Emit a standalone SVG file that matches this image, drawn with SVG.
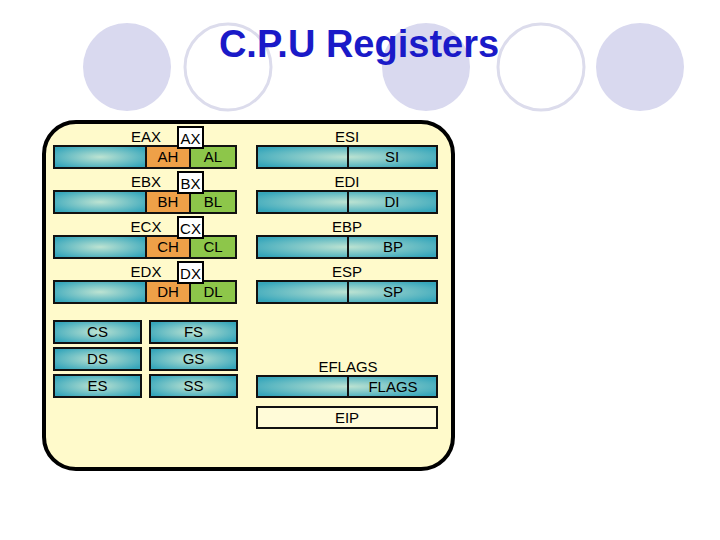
<svg xmlns="http://www.w3.org/2000/svg" width="720" height="540" viewBox="0 0 720 540">
<defs>
<radialGradient id="teal" cx="50%" cy="50%" r="60%">
<stop offset="0" stop-color="#bde3d2"/>
<stop offset="1" stop-color="#36a6bb"/>
</radialGradient>
<style>
.bg{fill:#d9d9ef}
.ring{fill:none;stroke:#dcdcec;stroke-width:3}
.title{font-family:"Liberation Sans",Arial,sans-serif;font-weight:bold;font-size:38px;fill:#1a1ac8}
.panel{fill:#fffacb;stroke:#000;stroke-width:4}
.bar{fill:url(#teal);stroke:#111;stroke-width:2}
.hi{fill:#eea048;stroke:#111;stroke-width:2}
.lo{fill:#8dc64a;stroke:#111;stroke-width:2}
.div{stroke:#111;stroke-width:2}
.box{fill:#fff;stroke:#000;stroke-width:2}
.eip{fill:#fffbd8;stroke:#111;stroke-width:2}
.t{font-family:"Liberation Sans",Arial,sans-serif;font-size:15px;fill:#000;text-anchor:middle}
</style>
</defs>
<rect width="720" height="540" fill="#fff"/>
<g id="decor">
<circle class="bg" cx="127" cy="67" r="44"/>
<circle class="ring" cx="228" cy="67" r="43"/>
<circle class="bg" cx="426" cy="67" r="44"/>
<circle class="ring" cx="541" cy="67" r="43"/>
<circle class="bg" cx="640" cy="67" r="44"/>
</g>
<text class="title" x="359" y="57" text-anchor="middle">C.P.U Registers</text>
<g id="panel"><rect class="panel" x="44" y="122" width="409" height="347" rx="32"/></g>

<g id="eax">
<text class="t" x="146" y="142">EAX</text>
<rect class="bar" x="54" y="146" width="92" height="22"/>
<rect class="hi" x="146" y="146" width="44" height="22"/>
<rect class="lo" x="190" y="146" width="46" height="22"/>
<rect class="box" x="178" y="127" width="25" height="21"/>
<text class="t" x="190.5" y="144">AX</text>
<text class="t" x="168" y="162">AH</text>
<text class="t" x="213" y="162">AL</text>
</g>
<g id="ebx">
<text class="t" x="146" y="187">EBX</text>
<rect class="bar" x="54" y="191" width="92" height="22"/>
<rect class="hi" x="146" y="191" width="44" height="22"/>
<rect class="lo" x="190" y="191" width="46" height="22"/>
<rect class="box" x="178" y="172" width="25" height="21"/>
<text class="t" x="190.5" y="189">BX</text>
<text class="t" x="168" y="207">BH</text>
<text class="t" x="213" y="207">BL</text>
</g>
<g id="ecx">
<text class="t" x="146" y="232">ECX</text>
<rect class="bar" x="54" y="236" width="92" height="22"/>
<rect class="hi" x="146" y="236" width="44" height="22"/>
<rect class="lo" x="190" y="236" width="46" height="22"/>
<rect class="box" x="178" y="217" width="25" height="21"/>
<text class="t" x="190.5" y="234">CX</text>
<text class="t" x="168" y="252">CH</text>
<text class="t" x="213" y="252">CL</text>
</g>
<g id="edx">
<text class="t" x="146" y="277">EDX</text>
<rect class="bar" x="54" y="281" width="92" height="22"/>
<rect class="hi" x="146" y="281" width="44" height="22"/>
<rect class="lo" x="190" y="281" width="46" height="22"/>
<rect class="box" x="178" y="262" width="25" height="21"/>
<text class="t" x="190.5" y="279">DX</text>
<text class="t" x="168" y="297">DH</text>
<text class="t" x="213" y="297">DL</text>
</g>

<g id="esi">
<text class="t" x="347" y="142">ESI</text>
<rect class="bar" x="257" y="146" width="180" height="22"/>
<line class="div" x1="348" y1="146" x2="348" y2="168"/>
<text class="t" x="392" y="162">SI</text>
</g>
<g id="edi">
<text class="t" x="347" y="187">EDI</text>
<rect class="bar" x="257" y="191" width="180" height="22"/>
<line class="div" x1="348" y1="191" x2="348" y2="213"/>
<text class="t" x="392" y="207">DI</text>
</g>
<g id="ebp">
<text class="t" x="347" y="232">EBP</text>
<rect class="bar" x="257" y="236" width="180" height="22"/>
<line class="div" x1="348" y1="236" x2="348" y2="258"/>
<text class="t" x="393" y="252">BP</text>
</g>
<g id="esp">
<text class="t" x="347" y="277">ESP</text>
<rect class="bar" x="257" y="281" width="180" height="22"/>
<line class="div" x1="348" y1="281" x2="348" y2="303"/>
<text class="t" x="393" y="297">SP</text>
</g>

<g id="cs"><rect class="bar" x="54" y="321" width="87" height="22"/><text class="t" x="97.5" y="337">CS</text></g>
<g id="fs"><rect class="bar" x="150" y="321" width="87" height="22"/><text class="t" x="193.5" y="337">FS</text></g>
<g id="ds"><rect class="bar" x="54" y="348" width="87" height="22"/><text class="t" x="97.5" y="364">DS</text></g>
<g id="gs"><rect class="bar" x="150" y="348" width="87" height="22"/><text class="t" x="193.5" y="364">GS</text></g>
<g id="es"><rect class="bar" x="54" y="375" width="87" height="22"/><text class="t" x="97.5" y="391">ES</text></g>
<g id="ss"><rect class="bar" x="150" y="375" width="87" height="22"/><text class="t" x="193.5" y="391">SS</text></g>

<g id="eflags">
<text class="t" x="348" y="372">EFLAGS</text>
<rect class="bar" x="257" y="376" width="180" height="21"/>
<line class="div" x1="348" y1="376" x2="348" y2="397"/>
<text class="t" x="393" y="392">FLAGS</text>
</g>
<g id="eip">
<rect class="eip" x="257" y="407" width="180" height="21"/>
<text class="t" x="347" y="423">EIP</text>
</g>
</svg>
